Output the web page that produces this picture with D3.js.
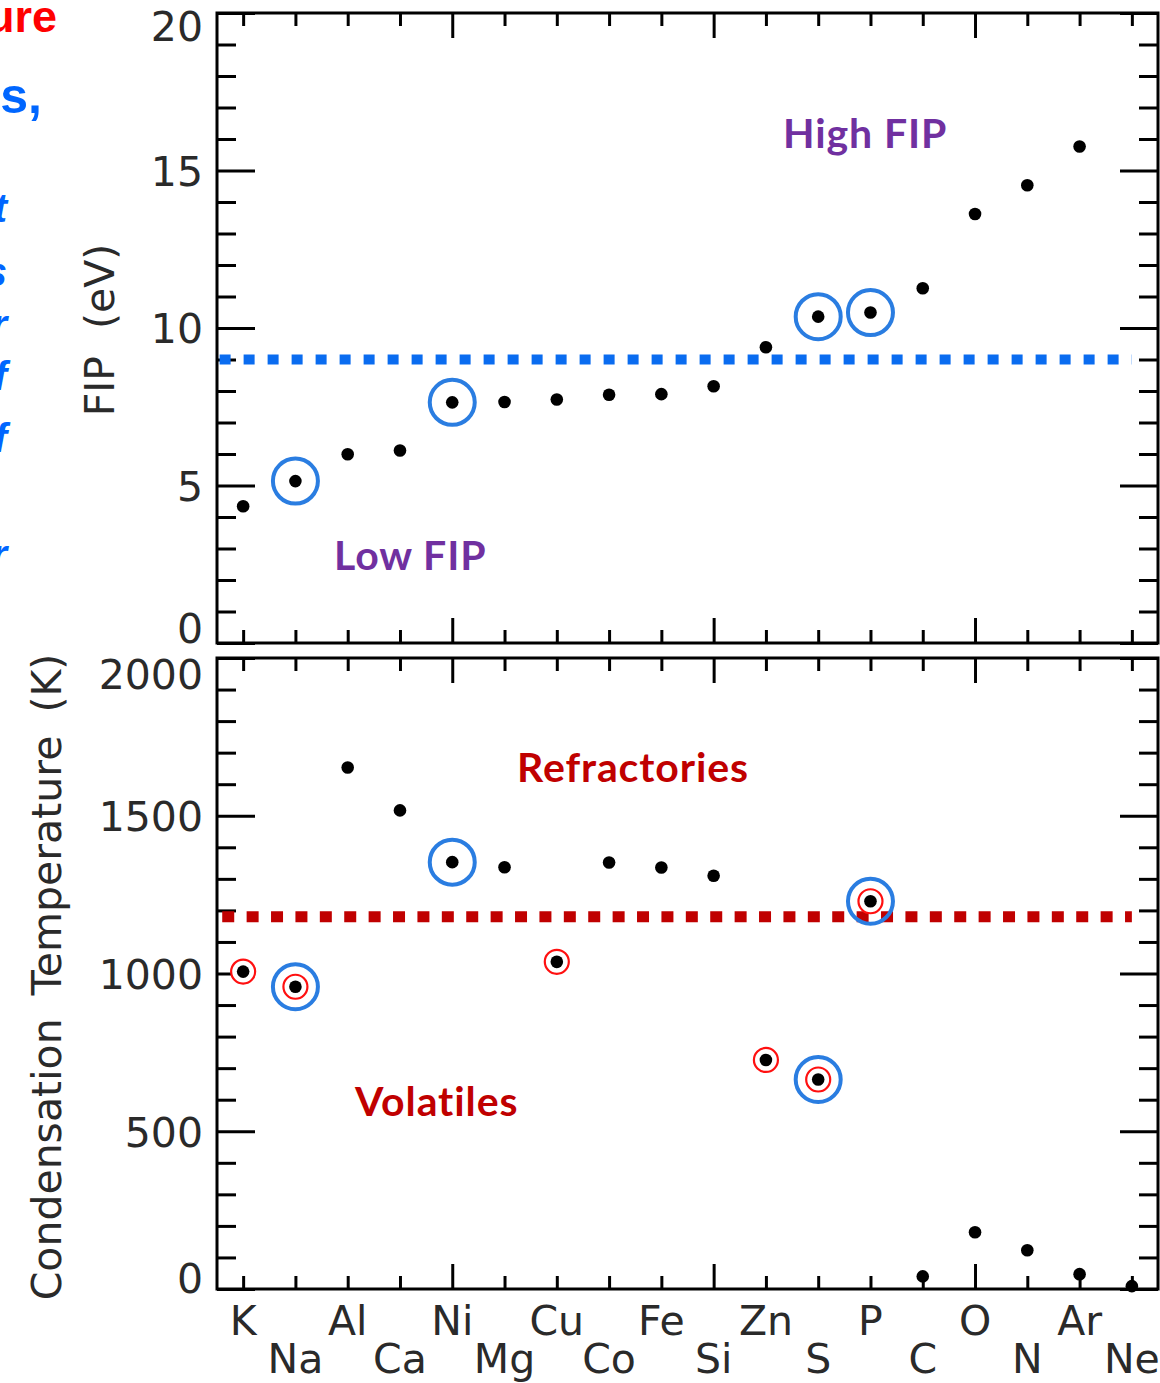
<!DOCTYPE html>
<html><head><meta charset="utf-8">
<script src="https://cdn.jsdelivr.net/npm/d3@7"></script>
<style>
html,body{margin:0;padding:0;background:#fff;}
svg{display:block;}
</style></head>
<body>
<script>
// ---------- data ----------
const elements = ["K","Na","Al","Ca","Ni","Mg","Cu","Co","Fe","Si","Zn","S","P","C","O","N","Ar","Ne"];
const fip = [4.34,5.14,5.99,6.11,7.64,7.65,7.73,7.88,7.90,8.15,9.39,10.36,10.49,11.26,13.62,14.53,15.76,21.56];
const condTemp = [1006,958,1653,1517,1353,1337,1037,1352,1336,1310,726,664,1229,40,180,123,47,9];
const fipThreshold = 9.0;
const tempThreshold = 1180;
const fipTicks = [0,5,10,15,20];
const tempTicks = [0,500,1000,1500,2000];
const blueCircledTop = ["Na","Ni","S","P"];
const blueCircledBottom = ["Na","Ni","S","P"];
const redCircledBottom = ["K","Na","Cu","Zn","S","P"];

const W = 1160, H = 1383;
const svg = d3.select("body").append("svg").attr("width", W).attr("height", H);

const x = d3.scaleLinear().domain([0.5, 18.5]).range([217, 1158]);
const yTop = d3.scaleLinear().domain([0, 20]).range([643, 13]);
const yBot = d3.scaleLinear().domain([0, 2000]).range([1289, 658]);

const axisFont = "'DejaVu Sans', sans-serif";
const boldFont = "Lato, 'Open Sans', sans-serif";
const idx = d3.range(1, elements.length + 1);

function drawPanel(y, majorY, minorStep, labelFmt, shiftTop, shiftBot){
  const [y0, y1] = y.domain();
  const minorY = d3.range(y0, y1 + 1e-9, minorStep).filter(v => !majorY.includes(v));
  const xMinor = idx.filter(i => i % 5 !== 0);
  const xMajor = idx.filter(i => i % 5 === 0);
  const [xl, xr] = x.range();
  const [yb, yt] = y.range();
  const g = svg.append("g");
  const mk = (axis, tr) => {
    const a = g.append("g").attr("transform", tr).call(axis);
    a.select(".domain").remove();
    a.selectAll("line").attr("stroke", "#000").attr("stroke-width", 3);
    return a;
  };
  mk(d3.axisLeft(y).tickValues(minorY).tickSize(-19).tickFormat(""), `translate(${xl},0)`);
  const la = mk(d3.axisLeft(y).tickValues(majorY).tickSize(-38).tickPadding(14).tickFormat(labelFmt), `translate(${xl},0)`);
  la.selectAll("text").attr("font-family", axisFont).attr("font-size", 41).attr("fill", "#2a2a2a")
    .attr("dy", d => d === y1 ? shiftTop : (d === y0 ? shiftBot : "0.36em"));
  mk(d3.axisRight(y).tickValues(minorY).tickSize(-19).tickFormat(""), `translate(${xr},0)`);
  mk(d3.axisRight(y).tickValues(majorY).tickSize(-38).tickFormat(""), `translate(${xr},0)`);
  mk(d3.axisBottom(x).tickValues(xMinor).tickSize(-13).tickFormat(""), `translate(0,${yb})`);
  mk(d3.axisBottom(x).tickValues(xMajor).tickSize(-25).tickFormat(""), `translate(0,${yb})`);
  mk(d3.axisTop(x).tickValues(xMinor).tickSize(-13).tickFormat(""), `translate(0,${yt})`);
  mk(d3.axisTop(x).tickValues(xMajor).tickSize(-25).tickFormat(""), `translate(0,${yt})`);
  g.append("rect").attr("x", xl).attr("y", yt).attr("width", xr - xl).attr("height", yb - yt)
    .attr("fill", "none").attr("stroke", "#000").attr("stroke-width", 3);
  return g;
}

drawPanel(yTop, fipTicks, 1, d3.format("d"), "0.68em", "-0.02em");
drawPanel(yBot, tempTicks, 100, d3.format("d"), "0.75em", "0.08em");

// threshold lines
svg.append("line").attr("x1", x(0.55)).attr("x2", x(18)).attr("y1", yTop(fipThreshold)).attr("y2", yTop(fipThreshold))
  .attr("stroke", "#0a6cf0").attr("stroke-width", 10).attr("stroke-dasharray", "11 13");
svg.append("line").attr("x1", x(0.6)).attr("x2", x(18)).attr("y1", yBot(tempThreshold)).attr("y2", yBot(tempThreshold))
  .attr("stroke", "#c00000").attr("stroke-width", 11).attr("stroke-dasharray", "12 12.4");

// top panel points
const topData = elements.map((e, i) => ({e, i: i + 1, v: fip[i]})).filter(d => d.v <= 20);
svg.append("g").selectAll("circle").data(topData.filter(d => blueCircledTop.includes(d.e))).join("circle")
  .attr("cx", d => x(d.i)).attr("cy", d => yTop(d.v)).attr("r", 22.5)
  .attr("fill", "none").attr("stroke", "#2a7de1").attr("stroke-width", 4);
svg.append("g").selectAll("circle").data(topData).join("circle")
  .attr("cx", d => x(d.i)).attr("cy", d => yTop(d.v)).attr("r", 6.3).attr("fill", "#000");

// bottom panel points
const botData = elements.map((e, i) => ({e, i: i + 1, v: condTemp[i]}));
svg.append("g").selectAll("circle").data(botData.filter(d => redCircledBottom.includes(d.e))).join("circle")
  .attr("cx", d => x(d.i)).attr("cy", d => yBot(d.v)).attr("r", 12)
  .attr("fill", "#fff").attr("stroke", "#ff1010").attr("stroke-width", 2.2);
svg.append("g").selectAll("circle").data(botData.filter(d => blueCircledBottom.includes(d.e))).join("circle")
  .attr("cx", d => x(d.i)).attr("cy", d => yBot(d.v)).attr("r", 22.5)
  .attr("fill", "none").attr("stroke", "#2a7de1").attr("stroke-width", 4);
svg.append("g").selectAll("circle").data(botData).join("circle")
  .attr("cx", d => x(d.i)).attr("cy", d => yBot(d.v)).attr("r", 6.3).attr("fill", "#000");

// element labels
svg.append("g").selectAll("text").data(elements).join("text")
  .attr("x", (d, i) => x(i + 1)).attr("y", (d, i) => i % 2 === 0 ? 1335 : 1373)
  .attr("text-anchor", "middle").attr("font-family", axisFont).attr("font-size", 41).attr("fill", "#2a2a2a")
  .text(d => d);

// axis titles
svg.append("text").attr("transform", "translate(114,330) rotate(-90)").attr("text-anchor", "middle")
  .attr("font-family", axisFont).attr("font-size", 41).attr("word-spacing", 14).attr("fill", "#2a2a2a").text("FIP (eV)");
svg.append("text").attr("transform", "translate(61,977) rotate(-90)").attr("text-anchor", "middle")
  .attr("font-family", axisFont).attr("font-size", 41).attr("word-spacing", 10).attr("fill", "#2a2a2a").text("Condensation Temperature (K)");

// annotations
const ann = [
  {t: "High FIP", x: 783, y: 148, c: "#7030a0"},
  {t: "Low FIP", x: 334, y: 570, c: "#7030a0"},
  {t: "Refractories", x: 517, y: 782, c: "#c00000"},
  {t: "Volatiles", x: 355, y: 1116, c: "#c00000"}
];
svg.append("g").selectAll("text").data(ann).join("text")
  .attr("x", d => d.x).attr("y", d => d.y).attr("font-family", boldFont).attr("font-weight", 700)
  .attr("font-size", 41).attr("letter-spacing", 0.9).attr("fill", d => d.c).text(d => d.t);

// clipped side text fragments
svg.append("text").attr("x", 57).attr("y", 32).attr("text-anchor", "end").attr("font-family", "'Liberation Sans', Arial, sans-serif")
  .attr("font-weight", 700).attr("font-size", 45).attr("fill", "#ff0000").text("Temperature");
svg.append("text").attr("x", 42).attr("y", 113).attr("text-anchor", "end").attr("font-family", "'Liberation Sans', Arial, sans-serif")
  .attr("font-weight", 700).attr("font-size", 50).attr("fill", "#0066ff").text("abundances,");
const frags = [{t: "ft", y: 222}, {t: "is", y: 286}, {t: "or", y: 338}, {t: "of", y: 390}, {t: "of", y: 452}, {t: "or", y: 568}];
svg.append("g").selectAll("text").data(frags).join("text")
  .attr("x", 7).attr("y", d => d.y).attr("text-anchor", "end").attr("font-family", "'Liberation Sans', Arial, sans-serif")
  .attr("font-style", "italic").attr("font-weight", 700).attr("font-size", 40).attr("fill", "#0066ff").text(d => d.t);
</script>
</body></html>
